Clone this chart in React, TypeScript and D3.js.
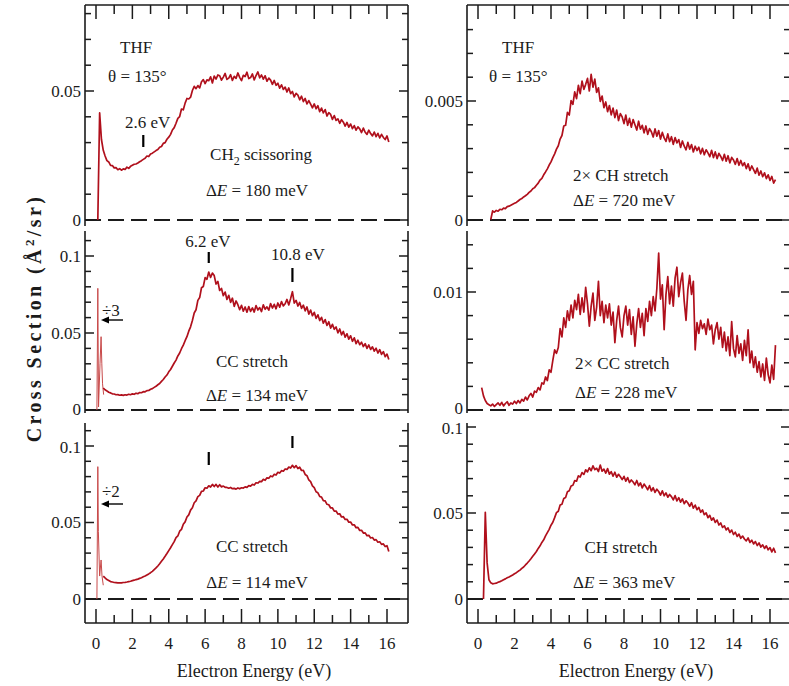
import React from 'react';
import * as d3 from 'd3';

const FONT = '"Liberation Serif", "Times New Roman", Tinos, "DejaVu Serif", serif';
const RED = '#b0101c';
const RED_LIGHT = '#c84a4a';
const INK = '#1b1b1b';
const MILLI = 0.001;
const STEP = 0.1; // eV grid spacing of the sampled spectra

// x-axis ticks (eV)
const energyTicks = d3.range(0, 17, 1);
const energyLabels = [0, 2, 4, 6, 8, 10, 12, 14, 16];

// THF, CH2 scissoring, dE = 180 meV (values in 1e-3 A^2/sr), grid starts 0.1 eV
const scissorE0 = 0.1;
const scissorMilli = [
  0, 41.5, 31.2, 27.0, 24.8, 23.0, 22.5, 21.2, 21.1, 20.2,
  20.3, 19.5, 19.9, 19.3, 19.8, 19.6, 20.5, 20.0, 20.8, 21.2,
  21.6, 21.7, 22.1, 22.6, 23.0, 23.5, 23.9, 24.8, 24.6, 25.6,
  25.9, 26.4, 26.9, 27.3, 28.2, 28.5, 29.7, 30.0, 31.3, 32.1,
  33.2, 34.9, 35.8, 37.5,
  39.4, 40.1, 43.0, 42.7, 45.3, 47.1, 46.9, 47.6, 50.2, 51.8,
  50.9, 52.1, 51.2, 53.6, 54.4, 52.9, 54.3, 54.0, 55.5, 53.1,
  55.8, 54.6, 56.2, 55.9, 54.2, 55.4, 56.8, 54.5, 55.0, 56.3,
  54.1, 55.7, 54.9, 57.0, 55.3, 54.0, 56.1, 55.6, 57.3, 54.8,
  55.2, 56.6, 54.3, 56.0, 57.4, 55.1, 56.2, 54.6, 55.9, 53.8,
  55.0, 54.2, 52.6, 54.1, 52.2, 53.0, 51.1, 52.4, 50.6, 51.5,
  49.6, 51.2, 49.0, 49.8, 47.7, 49.1, 48.4, 46.6, 48.0, 45.9,
  47.1, 45.0, 46.3, 44.9, 43.5, 45.0, 43.1, 44.3, 42.0, 43.4,
  41.5, 42.8, 40.3, 41.6, 40.9, 39.0, 40.5, 38.6, 39.2, 37.5,
  38.9, 37.9, 36.4, 37.8, 36.0, 37.2, 35.4, 36.6, 34.8, 36.1,
  35.3, 33.9, 35.6, 34.0, 33.2, 34.8, 33.5, 32.6, 34.1, 32.3,
  33.6, 31.8, 33.2, 32.0, 31.2, 32.6, 30.2,
];

// CC stretch, dE = 134 meV, grid starts 0.4 eV
const cc134E0 = 0.4;
const cc134Milli = [
  14.3, 13.1, 12.4, 11.5, 11.1, 10.5, 10.4, 9.9, 10.0, 9.6,
  9.8, 9.5, 9.9, 9.7, 10.2, 9.9, 10.5, 10.2, 10.9, 10.6,
  11.3, 11.2, 11.9, 11.8, 12.6, 12.7, 13.5, 13.9, 14.7, 15.4,
  16.4, 17.2, 18.6, 19.8, 21.4, 22.7, 24.8, 26.3, 28.4, 30.5,
  32.4, 35.1, 37.0, 39.8, 42.1, 45.0, 47.6, 51.2, 54.0, 58.1,
  63.0, 65.1, 71.2, 73.0, 79.4, 80.2, 86.0, 84.9, 89.6, 86.1,
  88.9, 87.3, 81.8, 83.5, 77.6, 78.9, 74.2, 76.6, 71.8, 74.5,
  69.9, 72.6, 67.3, 70.8, 68.4, 65.1, 68.0, 64.2, 66.9, 63.5,
  67.2, 64.0, 66.3, 63.6, 67.8, 64.9, 66.5, 63.9, 68.3, 65.4,
  67.0, 64.8, 69.1, 66.2, 68.6, 65.7, 69.5, 66.8, 70.4, 67.6,
  69.0, 71.8, 68.2, 72.3, 76.8, 69.4, 71.2, 67.5, 69.8, 66.0,
  68.1, 64.4, 66.9, 62.3, 64.9, 61.2, 63.4, 59.5, 61.8, 58.1,
  60.2, 56.4, 58.7, 54.9, 57.3, 53.2, 55.6, 52.4, 53.9, 50.1,
  52.6, 48.8, 51.0, 47.3, 49.5, 46.0, 48.2, 44.6, 46.9, 43.1,
  45.3, 42.4, 44.0, 41.2, 43.1, 40.0, 42.2, 39.3, 41.0, 38.2,
  40.1, 37.0, 39.2, 36.1, 37.9, 34.6, 36.3, 32.8,
];
// part shown divided by 3
const cc134DivE = [0.05, 0.1, 0.14, 0.22, 0.28, 0.32, 0.36, 0.42];
const cc134DivMilli = [0, 79, 2, 30, 47.6, 30, 17, 10];

// CC stretch, dE = 114 meV, grid starts 0.4 eV
const cc114E0 = 0.4;
const cc114Milli = [
  15.0, 13.8, 12.7, 12.1, 11.4, 11.1, 10.8, 10.7, 10.5, 10.6,
  10.5, 10.8, 10.9, 11.1, 11.4, 11.6, 12.0, 12.3, 12.7, 13.0,
  13.5, 13.9, 14.5, 15.0, 15.7, 16.4, 17.2, 18.1, 19.2, 20.3,
  21.6, 23.0, 24.6, 26.2, 27.9, 29.7, 31.6, 33.5, 35.5, 37.5,
  40.1, 41.2, 44.3, 45.5, 48.9, 50.4, 53.6, 55.0, 58.1, 59.6,
  62.9, 64.1, 66.9, 67.7, 70.3, 70.6, 72.7, 72.4, 74.0, 73.2,
  74.9, 73.5, 74.9, 73.2, 74.7, 73.3, 73.8, 73.0, 72.9, 72.4,
  72.9, 72.1, 72.3, 71.8, 72.6, 72.0, 72.7, 72.5, 73.3, 73.0,
  74.1, 73.8, 74.9, 74.5, 76.0, 75.8, 76.9, 76.7, 78.2, 77.6,
  79.2, 78.9, 80.4, 79.9, 81.5, 81.0, 82.8, 82.3, 83.9, 83.5,
  85.0, 84.7, 86.2, 85.6, 87.4, 85.8, 87.2, 85.3, 86.1, 84.0,
  84.1, 81.4, 80.6, 77.8, 76.7, 73.9, 72.8, 70.1, 69.4, 67.0,
  66.6, 64.3, 64.1, 61.9, 61.6, 59.5, 59.5, 57.4, 57.5, 55.5,
  55.7, 53.6, 53.8, 52.0, 52.1, 50.2, 50.3, 48.4, 48.5, 46.6,
  46.8, 44.8, 44.9, 43.1, 43.2, 41.4, 41.6, 39.9, 40.2, 38.5,
  38.8, 37.1, 37.4, 35.7, 36.0, 34.3, 34.8, 31.0,
];
// part shown divided by 2
const cc114DivE = [0.05, 0.1, 0.13, 0.2, 0.28, 0.33, 0.4];
const cc114DivMilli = [0, 86.5, 44, 15, 25.5, 15, 9];

// 2x CH stretch, dE = 720 meV, grid starts 0.7 eV
const ch2xE0 = 0.7;
const ch2xMilli = [
  0.02, 0.38, 0.33, 0.40, 0.37, 0.45, 0.43, 0.50, 0.48, 0.56,
  0.58, 0.62, 0.66, 0.70, 0.74, 0.80, 0.86, 0.90, 0.97, 1.02,
  1.08, 1.16, 1.22, 1.31, 1.36, 1.46, 1.55, 1.68, 1.75, 1.90,
  2.02, 2.15, 2.31, 2.44, 2.62, 2.78, 2.98, 3.12, 3.40, 3.55,
  3.95, 3.98, 4.52, 4.41, 5.02, 4.86, 5.38, 5.10, 5.66, 5.31,
  5.84, 5.49, 5.70, 5.95, 5.42, 6.12, 5.58, 5.92, 5.36, 5.55,
  4.98, 5.21, 4.72, 4.96, 4.55, 4.81, 4.42, 4.70, 4.30, 4.62,
  4.18, 4.47, 4.33, 4.05, 4.41, 3.98, 4.27, 3.90, 4.22, 4.00,
  3.78, 4.15, 3.82, 3.98, 3.66, 3.95, 3.60, 3.84, 3.71, 3.49,
  3.83, 3.52, 3.76, 3.40, 3.68, 3.45, 3.30, 3.62, 3.29, 3.50,
  3.18, 3.46, 3.24, 3.38, 3.05, 3.32, 3.10, 2.95, 3.26, 2.98,
  3.17, 2.86, 3.10, 2.92, 3.06, 2.78, 3.01, 2.74, 2.95, 2.82,
  2.66, 2.93, 2.62, 2.86, 2.58, 2.80, 2.67, 2.50, 2.76, 2.47,
  2.70, 2.40, 2.63, 2.52, 2.34, 2.58, 2.30, 2.50, 2.28, 2.41,
  2.16, 2.36, 2.08, 2.27, 2.12, 1.96, 2.18, 1.88, 2.06, 1.82,
  1.98, 1.74, 1.90, 1.66, 1.83, 1.55, 1.70,
];

// 2x CC stretch, dE = 228 meV, grid starts 0.2 eV
const cc2xE0 = 0.2;
const cc2xMilli = [
  1.9, 1.2, 0.8, 0.55, 0.45, 0.35, 0.5, 0.3, 0.45, 0.6,
  0.4, 0.65, 0.35, 0.55, 0.7, 0.4, 0.6, 0.5, 0.75, 0.55,
  0.8, 0.6, 0.9, 0.75, 1.1, 0.85, 1.2, 1.4, 1.1, 1.6,
  1.5, 1.9, 1.7, 2.3, 2.2, 2.8, 2.5, 3.4, 3.2, 4.2,
  5.1, 4.8, 5.3, 6.9, 6.2, 7.8, 7.0, 8.4, 7.6, 8.9,
  7.8, 9.3, 8.5, 9.8, 8.1, 9.5, 8.3, 10.4, 9.0, 7.1,
  8.8, 9.9, 7.6, 8.7, 10.9, 8.0, 9.2, 7.4, 8.9, 7.8,
  9.0, 7.2, 8.3, 5.7, 7.6, 8.8, 7.0, 6.2, 8.0, 8.8,
  7.2, 8.5, 6.4, 7.9, 5.4, 7.3, 8.6, 7.0, 8.2, 6.3,
  8.6, 7.5, 9.2, 8.0, 9.6, 8.4, 10.3, 13.3, 9.4, 10.6,
  6.8, 9.8, 11.3, 9.0, 10.5, 8.8, 11.2, 12.1, 9.6, 10.8,
  11.6, 9.2, 7.6, 10.2, 11.4, 9.8, 10.9, 5.1, 7.4, 6.5,
  7.6, 6.9, 7.3, 6.4, 7.7, 6.8, 7.2, 5.6, 6.8, 7.4,
  6.0, 7.0, 5.3, 6.6, 5.0, 6.2, 4.6, 7.5, 5.2, 4.5,
  6.3, 4.8, 5.6, 4.2, 5.9, 4.6, 6.8, 4.0, 5.0, 3.6,
  4.5, 3.2, 4.1, 2.8, 3.9, 2.5, 4.4, 3.0, 2.3, 3.8,
  2.6, 5.5,
];

// CH stretch, dE = 363 meV, grid starts 0.3 eV
const chE0 = 0.3;
const chMilli = [
  0, 50.4, 21.0, 11.2, 9.4, 8.8, 9.0, 9.2, 9.7, 10.1,
  10.6, 11.2, 11.7, 12.3, 12.8, 13.4, 14.0, 14.7, 15.3, 16.1,
  16.8, 17.8, 18.6, 19.8, 20.9, 22.1, 23.4, 24.8, 26.2, 27.6,
  29.4, 30.9, 32.9, 34.4, 36.7, 38.6, 40.5, 42.9, 44.6, 47.3,
  50.2, 51.0, 54.6, 55.1, 58.4, 59.0, 62.3, 62.9, 65.7, 66.1,
  68.8, 68.5, 71.6, 70.9, 73.5, 72.4, 75.1, 73.9, 76.3, 74.6,
  77.4, 75.2, 76.0, 74.1, 77.9, 74.3, 75.5, 73.2, 75.8, 72.6,
  74.0, 71.4, 73.7, 70.8, 72.5, 71.1, 69.4, 71.3, 68.5, 70.6,
  67.7, 69.2, 68.0, 66.4, 68.9, 65.8, 67.5, 64.6, 66.8, 65.3,
  63.5, 65.9, 62.8, 64.7, 62.0, 63.8, 62.5, 60.4, 62.9, 60.0,
  61.7, 59.2, 60.8, 59.5, 57.6, 60.1, 57.0, 58.9, 56.3, 58.2,
  55.4, 57.1, 55.8, 53.9, 56.0, 52.8, 54.6, 51.9, 53.3, 50.4,
  51.8, 49.0, 50.1, 47.3, 48.6, 45.8, 47.2, 44.5, 45.9, 43.0,
  44.2, 41.6, 42.5, 40.2, 41.3, 38.7, 40.1, 37.5, 38.8, 36.4,
  37.7, 35.3, 36.6, 34.9, 33.8, 35.5, 32.9, 34.2, 32.0, 33.4,
  31.1, 32.6, 30.2, 31.5, 29.4, 30.9, 28.6, 29.9, 27.4, 29.5,
  26.8,
];

type Pt = [number, number];
const gridSeries = (e0: number, vals: number[]): Pt[] =>
  vals.map((v, i) => [e0 + i * STEP, v * MILLI]);
const pairSeries = (es: number[], vals: number[]): Pt[] =>
  es.map((e, i) => [e, vals[i] * MILLI]);

// layout
const COLS = [
  { left: 85, right: 408, x0: 96, x16: 387 },
  { left: 467, right: 790, x0: 478, x16: 770 },
];
const ROWS = [
  { top: 5, bottom: 226, zero: 220 },
  { top: 231, bottom: 413, zero: 410 },
  { top: 423, bottom: 623, zero: 599 },
];

type PanelSpec = {
  col: number; row: number; refV: number; refY: number; step: number;
  labels: { v: number; t: string; dy?: number }[];
  main: Pt[]; extra?: Pt[];
};

const panels: PanelSpec[] = [
  { col: 0, row: 0, refV: 0.05, refY: 91, step: 0.01,
    labels: [{ v: 0, t: '0' }, { v: 0.05, t: '0.05' }],
    main: gridSeries(scissorE0, scissorMilli) },
  { col: 0, row: 1, refV: 0.1, refY: 256, step: 0.01,
    labels: [{ v: 0, t: '0', dy: -1 }, { v: 0.05, t: '0.05' }, { v: 0.1, t: '0.1' }],
    main: gridSeries(cc134E0, cc134Milli), extra: pairSeries(cc134DivE, cc134DivMilli) },
  { col: 0, row: 2, refV: 0.1, refY: 446, step: 0.01,
    labels: [{ v: 0, t: '0' }, { v: 0.05, t: '0.05' }, { v: 0.1, t: '0.1', dy: 1 }],
    main: gridSeries(cc114E0, cc114Milli), extra: pairSeries(cc114DivE, cc114DivMilli) },
  { col: 1, row: 0, refV: 0.005, refY: 101, step: 0.001,
    labels: [{ v: 0, t: '0' }, { v: 0.005, t: '0.005' }],
    main: gridSeries(ch2xE0, ch2xMilli) },
  { col: 1, row: 1, refV: 0.01, refY: 292, step: 0.002,
    labels: [{ v: 0, t: '0', dy: -1.5 }, { v: 0.01, t: '0.01' }],
    main: gridSeries(cc2xE0, cc2xMilli) },
  { col: 1, row: 2, refV: 0.1, refY: 427, step: 0.01,
    labels: [{ v: 0, t: '0' }, { v: 0.05, t: '0.05' }, { v: 0.1, t: '0.1', dy: 1.5 }],
    main: gridSeries(chE0, chMilli) },
];

const xScale = (c: number) =>
  d3.scaleLinear().domain([0, 16]).range([COLS[c].x0, COLS[c].x16]);

function Panel({ p }: { p: PanelSpec }) {
  const c = COLS[p.col];
  const r = ROWS[p.row];
  const xs = xScale(p.col);
  const ys = d3.scaleLinear().domain([0, p.refV]).range([r.zero, p.refY]);
  const line = d3.line<Pt>().x((d) => xs(d[0])).y((d) => ys(d[1]));
  const ticks: { y: number; major: boolean }[] = [];
  for (let k = 0; k < 100; k++) {
    const v = k * p.step;
    const y = ys(v);
    if (y < r.top + 2) break;
    const major = p.labels.some((l) => Math.abs(l.v - v) < p.step / 10);
    ticks.push({ y, major });
  }
  return (
    <g>
      <line x1={c.left} x2={c.right} y1={r.zero} y2={r.zero} stroke={INK}
        strokeWidth={1.8} strokeDasharray="16 7" />
      {p.extra && (
        <path d={line(p.extra) || ''} fill="none" stroke={RED_LIGHT} strokeWidth={1} />
      )}
      <path d={line(p.main) || ''} fill="none" stroke={RED} strokeWidth={1.7}
        strokeLinejoin="round" />
      <line x1={c.left} x2={c.left} y1={r.top} y2={r.bottom} stroke={INK} strokeWidth={1.6} />
      <line x1={c.right} x2={c.right} y1={r.top} y2={r.bottom} stroke={INK} strokeWidth={1.6} />
      {ticks.map((t, i) => (
        <g key={i}>
          <line x1={c.left} x2={c.left + (t.major ? 9 : 6)} y1={t.y} y2={t.y}
            stroke={INK} strokeWidth={1.5} />
          <line x1={c.right} x2={c.right - (t.major ? 9 : 6)} y1={t.y} y2={t.y}
            stroke={INK} strokeWidth={1.5} />
        </g>
      ))}
      {p.labels.map((l, i) => (
        <text key={i} x={c.left - 4} y={ys(l.v) + 5.5 + (l.dy || 0)} textAnchor="end"
          fontSize={17} fill={INK}>{l.t}</text>
      ))}
      {p.row === 0 && (
        <g>
          <line x1={c.left} x2={c.right} y1={r.top} y2={r.top} stroke={INK} strokeWidth={1.6} />
          {energyTicks.map((e) => (
            <line key={e} x1={xs(e)} x2={xs(e)} y1={r.top} y2={r.top + (e % 2 === 0 ? 14 : 9)}
              stroke={INK} strokeWidth={1.5} />
          ))}
        </g>
      )}
      {p.row === 2 && (
        <g>
          <line x1={c.left} x2={c.right} y1={r.bottom} y2={r.bottom} stroke={INK} strokeWidth={1.6} />
          {energyTicks.map((e) => (
            <line key={e} x1={xs(e)} x2={xs(e)} y1={r.bottom} y2={r.bottom - (e % 2 === 0 ? 14 : 8)}
              stroke={INK} strokeWidth={1.5} />
          ))}
          {energyLabels.map((e) => (
            <text key={e} x={xs(e)} y={649} textAnchor="middle" fontSize={17} fill={INK}>{e}</text>
          ))}
        </g>
      )}
    </g>
  );
}

const DE = (v: string) => (
  <>
    {'\u0394'}<tspan fontStyle="italic">E</tspan>{' = ' + v + ' meV'}
  </>
);

export default function App() {
  const xl = xScale(0);
  const mark = (x: number, y1: number, y2: number, k: string) => (
    <line key={k} x1={x} x2={x} y1={y1} y2={y2} stroke="#000" strokeWidth={2.2} />
  );
  const arrow = (y: number) => (
    <g>
      <line x1={123} x2={107} y1={y} y2={y} stroke="#000" strokeWidth={1.4} />
      <path d={`M101,${y} L109,${y - 3.5} L109,${y + 3.5} Z`} fill="#000" />
    </g>
  );
  return (
    <svg width={789} height={686}
      style={{ position: 'absolute', left: 0, top: 0, background: '#fff', fontFamily: FONT }}>
      {panels.map((p, i) => <Panel key={i} p={p} />)}

      <g fontSize={17} fill={INK}>
        <text x={120} y={53}>THF</text>
        <text x={108} y={82}>{'\u03B8 = 135\u00B0'}</text>
        <text x={125} y={128}>2.6 eV</text>
        <text x={261} y={160} textAnchor="middle">CH<tspan dy={5} fontSize={12}>2</tspan><tspan dy={-5}> scissoring</tspan></text>
        <text x={257} y={196} textAnchor="middle">{DE('180')}</text>

        <text x={502} y={53}>THF</text>
        <text x={489} y={82}>{'\u03B8 = 135\u00B0'}</text>
        <text x={573} y={181}>{'2\u00D7 CH stretch'}</text>
        <text x={573} y={206}>{DE('720')}</text>

        <text x={208} y={247} textAnchor="middle">6.2 eV</text>
        <text x={298} y={260} textAnchor="middle">10.8 eV</text>
        <text x={102} y={316}>{'\u00F73'}</text>
        <text x={252} y={367} textAnchor="middle">CC stretch</text>
        <text x={257} y={401} textAnchor="middle">{DE('134')}</text>

        <text x={575} y={369}>{'2\u00D7 CC stretch'}</text>
        <text x={575} y={398}>{DE('228')}</text>

        <text x={102} y={497}>{'\u00F72'}</text>
        <text x={252} y={552} textAnchor="middle">CC stretch</text>
        <text x={257} y={588} textAnchor="middle">{DE('114')}</text>

        <text x={621} y={553} textAnchor="middle">CH stretch</text>
        <text x={573} y={588}>{DE('363')}</text>
      </g>

      {mark(xl(2.6), 135, 147, 'a')}
      {mark(xl(6.2), 252, 263, 'b')}
      {mark(xl(10.8), 268, 282, 'c')}
      {mark(xl(6.2), 452, 465, 'd')}
      {mark(xl(10.8), 436, 448, 'e')}
      {arrow(320)}
      {arrow(504)}

      <g fontSize={18} fill={INK}>
        <text x={254} y={677} textAnchor="middle">Electron Energy (eV)</text>
        <text x={636} y={677} textAnchor="middle">Electron Energy (eV)</text>
      </g>
      <text transform="translate(41,318) rotate(-90)" textAnchor="middle" fontSize={20}
        fontWeight="bold" letterSpacing={3.4} fill={INK}>
        Cross Section (Å<tspan dy={-7} fontSize={13}>2</tspan><tspan dy={7}>/sr)</tspan>
      </text>
    </svg>
  );
}
